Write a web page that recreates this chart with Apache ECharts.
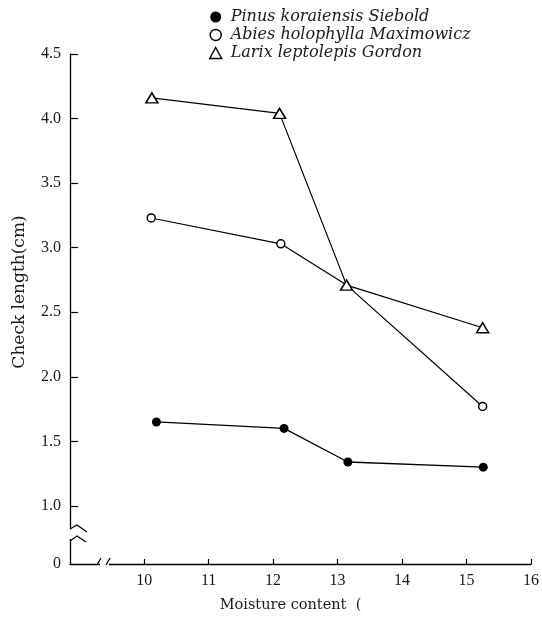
<!DOCTYPE html>
<html>
<head>
<meta charset="utf-8">
<script src="https://cdn.jsdelivr.net/npm/echarts@6/dist/echarts.min.js"></script>
<style>
html,body{margin:0;padding:0;background:#fff;}
#c{width:542px;height:618px;}
</style>
</head>
<body>
<div id="c"></div>
<script>
// Data
const seriesNames = ['Pinus koraiensis Siebold', 'Abies holophylla Maximowicz', 'Larix leptolepis Gordon'];
const xPinus = [10.19, 12.17, 13.16, 15.26];
const yPinus = [1.65, 1.60, 1.34, 1.30];
const xAbies = [10.11, 12.12, 13.14, 15.25];
const yAbies = [3.23, 3.03, 2.71, 1.77];
const xLarix = [10.12, 12.10, 13.14, 15.25];
const yLarix = [4.16, 4.04, 2.71, 2.38];
const xTicks = [10, 11, 12, 13, 14, 15, 16];
const yTicks = [1.0, 1.5, 2.0, 2.5, 3.0, 3.5, 4.0, 4.5];
const yBreakBase = 0.55; // bottom of the broken axis, labelled "0"

const FONT = 'Liberation Serif';
const FONT2 = 'DejaVu Serif';
const INK = '#1a1a1a';
const G = {left: 70, right: 11, top: 54, bottom: 53};

const chart = echarts.init(document.getElementById('c'), null, {renderer: 'canvas'});

const pairs = (xs, ys) => xs.map((x, i) => [x, ys[i]]);

const abiesData = pairs(xAbies, yAbies).map((p, i) =>
  i === 2 ? {value: p, symbol: 'none'} : {value: p});

option = {
  backgroundColor: '#fff',
  animation: false,
  textStyle: {fontFamily: FONT, color: INK},
  legend: {
    orient: 'vertical',
    left: 204,
    top: 4,
    itemGap: 2,
    itemWidth: 12,
    itemHeight: 11,
    textStyle: {fontFamily: FONT2, fontStyle: 'italic', fontSize: 16, color: INK, padding: [0, 0, 0, 4]},
    data: [
      {name: seriesNames[0], icon: 'circle', itemStyle: {color: '#000', borderWidth: 0}},
      {name: seriesNames[1], icon: 'circle', itemStyle: {color: '#fff', borderColor: '#000', borderWidth: 1.4}},
      {name: seriesNames[2], icon: 'triangle', itemStyle: {color: '#fff', borderColor: '#000', borderWidth: 1.4}}
    ]
  },
  grid: {left: G.left, right: G.right, top: G.top, bottom: G.bottom, containLabel: false},
  xAxis: {
    type: 'value',
    min: 8.85,
    max: 16,
    name: 'Moisture content  (',
    nameLocation: 'middle',
    nameGap: 34,
    nameTextStyle: {fontFamily: FONT2, fontSize: 14.5, color: INK, padding: [0, 20, 0, 0]},
    axisLine: {show: true, onZero: false, lineStyle: {color: '#000', width: 1.3}},
    axisTick: {show: true, inside: true, length: 5, customValues: xTicks, lineStyle: {color: '#000', width: 1.2}},
    axisLabel: {show: true, customValues: xTicks, margin: 9, fontFamily: FONT, fontSize: 16, color: INK,
      formatter: v => String(Math.round(v))},
    splitLine: {show: false}
  },
  yAxis: {
    type: 'value',
    min: yBreakBase,
    max: 4.5,
    name: 'Check length(cm)',
    nameLocation: 'middle',
    nameRotate: 90,
    nameGap: 42,
    nameTextStyle: {fontFamily: FONT2, fontSize: 17, color: INK, padding: [0, 0, 0, 34]},
    axisLine: {show: true, onZero: false, lineStyle: {color: '#000', width: 1.3}},
    axisTick: {show: true, inside: true, length: 8, customValues: yTicks, lineStyle: {color: '#000', width: 1.2}},
    axisLabel: {show: true, customValues: [yBreakBase].concat(yTicks), margin: 9, fontFamily: FONT, fontSize: 16, color: INK,
      formatter: v => (v < 0.9 ? '0' : v.toFixed(1))},
    splitLine: {show: false}
  },
  series: [
    {
      name: seriesNames[0], type: 'line', data: pairs(xPinus, yPinus),
      symbol: 'circle', symbolSize: 9,
      itemStyle: {color: '#000', borderWidth: 0},
      lineStyle: {color: '#000', width: 1.3}, z: 2
    },
    {
      name: seriesNames[1], type: 'line', data: abiesData,
      symbol: 'circle', symbolSize: 8,
      itemStyle: {color: '#fff', borderColor: '#000', borderWidth: 1.5},
      lineStyle: {color: '#000', width: 1.2}, z: 3
    },
    {
      name: seriesNames[2], type: 'line', data: pairs(xLarix, yLarix),
      symbol: 'triangle', symbolSize: [12, 10],
      itemStyle: {color: '#fff', borderColor: '#000', borderWidth: 1.5},
      lineStyle: {color: '#000', width: 1.2}, z: 4
    }
  ]
};
chart.setOption(option);

// Axis-break decorations drawn at the grid corner
const W = 542, H = 618;
const ax = G.left, ay = H - G.bottom;
const stroke = {stroke: '#000', lineWidth: 1.3, fill: null};
chart.setOption({
  graphic: [
    // gap in the y axis
    {type: 'rect', shape: {x: ax - 2, y: ay - 36, width: 4, height: 10}, style: {fill: '#fff'}, z: 100},
    {type: 'polyline', shape: {points: [[ax, ay - 36], [ax + 7, ay - 40], [ax + 17, ay - 33]]}, style: stroke, z: 101},
    {type: 'polyline', shape: {points: [[ax, ay - 24], [ax + 7, ay - 29], [ax + 16, ay - 23]]}, style: stroke, z: 101},
    // gap in the x axis
    {type: 'rect', shape: {x: ax + 30, y: ay - 2, width: 9, height: 4}, style: {fill: '#fff'}, z: 100},
    {type: 'line', shape: {x1: ax + 27, y1: ay, x2: ax + 31, y2: ay - 7}, style: stroke, z: 101},
    {type: 'line', shape: {x1: ax + 36, y1: ay, x2: ax + 40, y2: ay - 7}, style: stroke, z: 101}
  ]
});
</script>
</body>
</html>
